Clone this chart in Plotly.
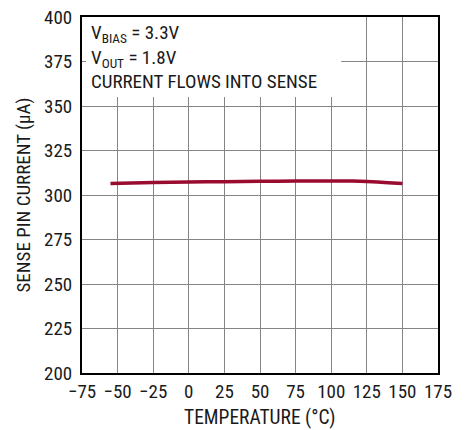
import plotly.graph_objects as go

temperature = [-55, -40, -25, 0, 25, 50, 75, 100, 115, 125, 140, 150]
sense_current = [306.5, 306.8, 307.0, 307.3, 307.5, 307.7, 307.8, 307.8, 307.8, 307.6, 306.9, 306.4]

x_ticks = [-75, -50, -25, 0, 25, 50, 75, 100, 125, 150, 175]
x_ticktext = ["\u221275", "\u221250", "\u221225", "0", "25", "50", "75", "100", "125", "150", "175"]
y_ticks = [200, 225, 250, 275, 300, 325, 350, 375, 400]

FONT = "Liberation Sans Narrow, Arial Narrow, Roboto Condensed, sans-serif"
TXT = "#1a1a1a"

fig = go.Figure()
fig.add_trace(go.Scatter(
    x=temperature, y=sense_current, mode="lines",
    line=dict(color="#9a0b30", width=3.5, shape="spline", smoothing=0.6),
    showlegend=False, hoverinfo="skip",
))

# white box behind the condition text (covers gridlines)
fig.add_shape(type="rect", xref="x", yref="y", x0=-75, x1=107, y0=355, y1=400,
              fillcolor="white", line=dict(width=0), layer="between")

fig.add_annotation(
    xref="paper", yref="paper", x=0.02, y=0.993, xanchor="left", yanchor="top",
    align="left", showarrow=False,
    text="V<sub>BIAS</sub> = 3.3V<br>V<sub>OUT</sub> = 1.8V<br>CURRENT FLOWS INTO SENSE",
    font=dict(family=FONT, size=19, color=TXT),
)

# x-axis title
fig.add_annotation(
    xref="paper", yref="paper", x=0.5, y=-0.124, xanchor="center", yanchor="middle",
    showarrow=False, text="TEMPERATURE (°C)", borderpad=0,
    font=dict(family=FONT, size=19.5, color=TXT),
)

fig.update_xaxes(
    range=[-75, 175], tickvals=x_ticks, ticktext=x_ticktext,
    showgrid=True, gridcolor="#858585", gridwidth=1,
    showline=True, linecolor="black", linewidth=2, mirror=True,
    ticks="inside", ticklen=4, tickcolor="#858585",
    zeroline=False, automargin=False,
    tickfont=dict(family=FONT, size=19, color=TXT),
)
fig.update_yaxes(
    range=[200, 400], tickvals=y_ticks,
    showgrid=True, gridcolor="#858585", gridwidth=1,
    showline=True, linecolor="black", linewidth=2, mirror=True,
    ticks="inside", ticklen=4, tickcolor="#858585",
    zeroline=False, automargin=False, ticklabelstandoff=4,
    title=dict(text="SENSE PIN CURRENT (\u03bcA)", font=dict(family=FONT, size=19, color=TXT), standoff=8),
    tickfont=dict(family=FONT, size=19, color=TXT),
)

fig.update_layout(
    width=468, height=430,
    margin=dict(l=82, r=30, t=17, b=57),
    paper_bgcolor="white", plot_bgcolor="white",
    font=dict(family=FONT),
)

fig.write_html(
    "out.html",
    config={"displayModeBar": False},
    post_script="document.body.style.margin='0';document.body.style.padding='0';",
)
